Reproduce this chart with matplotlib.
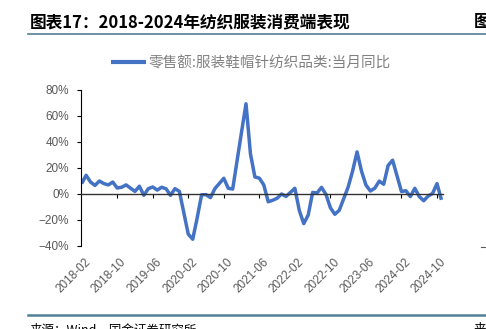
import matplotlib
matplotlib.use('Agg')
import matplotlib.pyplot as plt
import matplotlib.transforms as mtransforms
from matplotlib.lines import Line2D
from matplotlib.ticker import PercentFormatter

plt.rcParams['font.family'] = ['Liberation Sans', 'Noto Sans CJK SC']
plt.rcParams['axes.unicode_minus'] = True

# 零售额:服装鞋帽针纺织品类:当月同比 (%), 1月无单月数据
months = [
    '2018-02', '2018-03', '2018-04', '2018-05', '2018-06', '2018-07', '2018-08',
    '2018-09', '2018-10', '2018-11', '2018-12',
    '2019-02', '2019-03', '2019-04', '2019-05', '2019-06', '2019-07', '2019-08',
    '2019-09', '2019-10', '2019-11', '2019-12',
    '2020-02', '2020-03', '2020-04', '2020-05', '2020-06', '2020-07', '2020-08',
    '2020-09', '2020-10', '2020-11', '2020-12',
    '2021-02', '2021-03', '2021-04', '2021-05', '2021-06', '2021-07', '2021-08',
    '2021-09', '2021-10', '2021-11', '2021-12',
    '2022-02', '2022-03', '2022-04', '2022-05', '2022-06', '2022-07', '2022-08',
    '2022-09', '2022-10', '2022-11', '2022-12',
    '2023-02', '2023-03', '2023-04', '2023-05', '2023-06', '2023-07', '2023-08',
    '2023-09', '2023-10', '2023-11', '2023-12',
    '2024-02', '2024-03', '2024-04', '2024-05', '2024-06', '2024-07', '2024-08',
    '2024-09', '2024-10', '2024-11',
]
yoy = [
    8.0, 14.4, 9.2, 6.6, 10.0, 8.0, 7.0, 9.2, 4.6, 5.2, 7.0,
    2.0, 6.0, -1.0, 4.1, 5.4, 3.0, 5.2, 4.0, -1.0, 4.1, 2.0,
    -30.9, -34.8, -18.5, -0.6, -0.5, -2.8, 4.2, 8.1, 12.1, 4.4, 3.8,
    47.8, 69.4, 30.9, 13.1, 12.2, 7.0, -6.0, -4.8, -3.3, 0.0, -1.9,
    4.4, -12.7, -22.8, -16.2, 1.2, 0.8, 5.1, -0.3, -10.6, -15.6, -12.5,
    5.4, 17.7, 32.4, 17.6, 6.9, 2.3, 4.5, 9.9, 7.5, 22.0, 26.0,
    1.9, 2.5, -2.0, 4.4, -1.9, -5.2, -1.6, 0.4, 8.0, -4.5,
]
tick_labels = ['2018-02', '2018-10', '2019-06', '2020-02', '2020-10', '2021-06',
               '2022-02', '2022-10', '2023-06', '2024-02', '2024-10']
y_ticks = [-40, -20, 0, 20, 40, 60, 80]


def month_index(s):
    y, m = s.split('-')
    return (int(y) - 2018) * 12 + int(m) - 2


xs = [month_index(m) for m in months]
tick_pos = [month_index(t) for t in tick_labels]

W, H = 486, 329
fx = lambda px: px / W
fy = lambda py: 1 - py / H

fig = plt.figure(figsize=(W / 100, H / 100), dpi=100)
ax = fig.add_axes([fx(81), fy(246), 362 / W, 156 / H])

line, = ax.plot(xs, yoy, color='#4472C4', lw=2.5, solid_joinstyle='round',
                solid_capstyle='butt', label='零售额:服装鞋帽针纺织品类:当月同比')

ax.set_xlim(-0.15, 81.35)
ax.set_ylim(-40, 80)
ax.set_yticks(y_ticks)
ax.yaxis.set_major_formatter(PercentFormatter(decimals=0))
ax.tick_params(axis='y', length=3, width=0.8, color='black', pad=5.5,
               labelsize=8.5, labelcolor='#595959')

for s in ['top', 'right']:
    ax.spines[s].set_visible(False)
ax.spines['left'].set_color('black')
ax.spines['left'].set_linewidth(0.8)
ax.spines['bottom'].set_position(('data', 0))
ax.spines['bottom'].set_color('#333333')
ax.spines['bottom'].set_linewidth(1.0)
ax.set_xticks(tick_pos[1:])
ax.tick_params(axis='x', length=3, width=0.8, color='black', labelbottom=False)

# 日期标签放在图区底部
sec = ax.secondary_xaxis(0)
sec.spines['bottom'].set_visible(False)
sec.set_xticks(tick_pos)
sec.set_xticklabels(tick_labels)
sec.tick_params(axis='x', length=0, pad=7, labelsize=8.5, labelcolor='#595959')
shift = mtransforms.ScaledTranslation(3 / 100, 0, fig.dpi_scale_trans)
for lab in sec.get_xticklabels():
    lab.set_rotation(45)
    lab.set_ha('right')
    lab.set_va('top')
    lab.set_rotation_mode('anchor')
    lab.set_transform(lab.get_transform() + shift)

leg = ax.legend(handles=[line], loc='center', bbox_to_anchor=(fx(251), fy(63)),
                bbox_transform=fig.transFigure, frameon=False, handlelength=2.4,
                handletextpad=0.15, prop={'family': 'Noto Sans CJK SC', 'size': 10.5})
for t in leg.get_texts():
    t.set_color('#808080')
leg.get_lines()[0].set_linewidth(3)

# 标题、分隔线、资料来源
fig.text(fx(30), fy(22), '图表17：2018-2024年纺织服装消费端表现', fontsize=12,
         fontweight='bold', va='center', family=['Noto Sans CJK SC'])
fig.text(fx(474), fy(22), '图表18：', fontsize=12, fontweight='bold', va='center',
         family=['Noto Sans CJK SC'])
fig.add_artist(Line2D([fx(28), 1], [fy(34), fy(34)], color='#4f8197', lw=1.2))
fig.add_artist(Line2D([fx(28), 1], [fy(315), fy(315)], color='#4f8197', lw=1.8))
fig.text(fx(30), fy(323.5), '来源：Wind，国金证券研究所', fontsize=9, va='top',
         family=['Noto Sans CJK SC'])
fig.text(fx(474), fy(323.5), '来源：', fontsize=9, va='top', family=['Noto Sans CJK SC'])
fig.add_artist(Line2D([fx(481), 1], [fy(247), fy(247)], color='#595959', lw=0.8))

fig.savefig('out.png', dpi=100)
